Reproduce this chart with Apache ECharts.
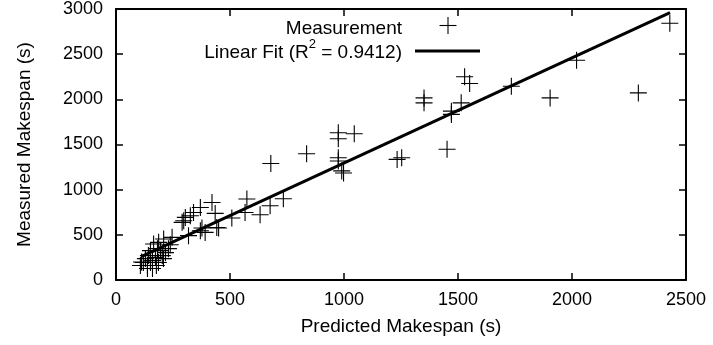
<!DOCTYPE html>
<html>
<head>
<meta charset="utf-8">
<script src="https://cdn.jsdelivr.net/npm/echarts@6/dist/echarts.min.js"></script>
<style>html,body{margin:0;padding:0;background:#fff}#c{width:713px;height:345px}</style>
</head>
<body>
<div id="c"></div>
<script>
// Predicted makespan (s)
var predicted = [2429,2020,1734,1904,2291,1529,1551,1351,1351,1514,1471,1471,1452,975,975,1045,975,975,990,998,836,1233,1253,679,734,574,676,632,566,508,421,435,450,377,391,370,340,304,290,318,246,209,187,165,297,326,442,370,
  112,120,138,160,173,186,203,217,138,151,129,142,195,160,177,208,151,182,230,238,107];
// Measured makespan (s)
var measured = [2843,2432,2145,2016,2071,2250,2175,2016,1961,1961,1869,1833,1447,1630,1564,1619,1354,1318,1208,1185,1398,1335,1354,1290,899,896,822,722,748,686,858,737,576,576,527,803,748,693,638,491,472,454,417,399,656,711,582,546,
  200,193,160,215,248,193,270,303,127,193,237,270,325,127,160,237,325,347,347,391,160];
// Linear fit end points
var fitX = [110,2430];
var fitY = [260,2960];
var xTicks = {min:0,max:2500,interval:500};
var yTicks = {min:0,max:3000,interval:500};

var pts = predicted.map(function(v,i){return [v,measured[i]];});
var fit = fitX.map(function(v,i){return [v,fitY[i]];});
var FONT = 'Liberation Sans';
function fmt(v){return String(v);}
function mkAxis(pos, t, showLabel, margin, name, nameGap){
  var a = {
    type:'value', position:pos, min:t.min, max:t.max, interval:t.interval,
    splitLine:{show:false},
    axisLine:{show:true,onZero:false,lineStyle:{color:'#000',width:2}},
    axisTick:{show:true,inside:true,length:7,lineStyle:{color:'#000',width:1.5}},
    axisLabel:{show:showLabel,color:'#000',fontSize:18,fontFamily:FONT,margin:margin,formatter:fmt}
  };
  if(name){
    a.name=name; a.nameLocation='middle'; a.nameGap=nameGap;
    a.nameTextStyle={color:'#000',fontSize:19,fontFamily:FONT};
  }
  return a;
}
var chart = echarts.init(document.getElementById('c'));
chart.setOption({
  animation:false,
  backgroundColor:'#fff',
  grid:{left:116,right:27,top:8,bottom:65,containLabel:false},
  xAxis:[
    mkAxis('bottom',xTicks,true,11,'Predicted Makespan (s)',37),
    mkAxis('top',xTicks,false,8)
  ],
  yAxis:[
    mkAxis('left',yTicks,true,13,'Measured Makespan (s)',82),
    mkAxis('right',yTicks,false,8)
  ],
  series:[
    {type:'scatter',data:pts,symbol:'path://M10,0V20M0,10H20',symbolSize:17,
      itemStyle:{color:'transparent',borderColor:'#000',borderWidth:1.1,opacity:1},silent:true},
    {type:'line',data:fit,symbol:'none',lineStyle:{color:'#000',width:3},silent:true}
  ],
  graphic:[
    {type:'text',x:402,y:29,style:{text:'Measurement',align:'right',verticalAlign:'middle',fill:'#000',font:'19px "'+FONT+'"'}},
    {type:'line',shape:{x1:448,y1:17,x2:448,y2:34},style:{stroke:'#000',lineWidth:1.1}},
    {type:'line',shape:{x1:439.5,y1:25.5,x2:456.5,y2:25.5},style:{stroke:'#000',lineWidth:1.1}},
    {type:'text',x:402,y:50,style:{
      text:'{n|Linear Fit (R}{s|2}{n| = 0.9412)}',align:'right',verticalAlign:'middle',fill:'#000',
      rich:{n:{fontSize:19,fontFamily:FONT,lineHeight:24,verticalAlign:'bottom',fill:'#000'},
            s:{fontSize:13,fontFamily:FONT,lineHeight:14,verticalAlign:'top',fill:'#000'}}}},
    {type:'line',shape:{x1:415,y1:51,x2:480,y2:51},style:{stroke:'#000',lineWidth:3}}
  ]
});
</script>
</body>
</html>
